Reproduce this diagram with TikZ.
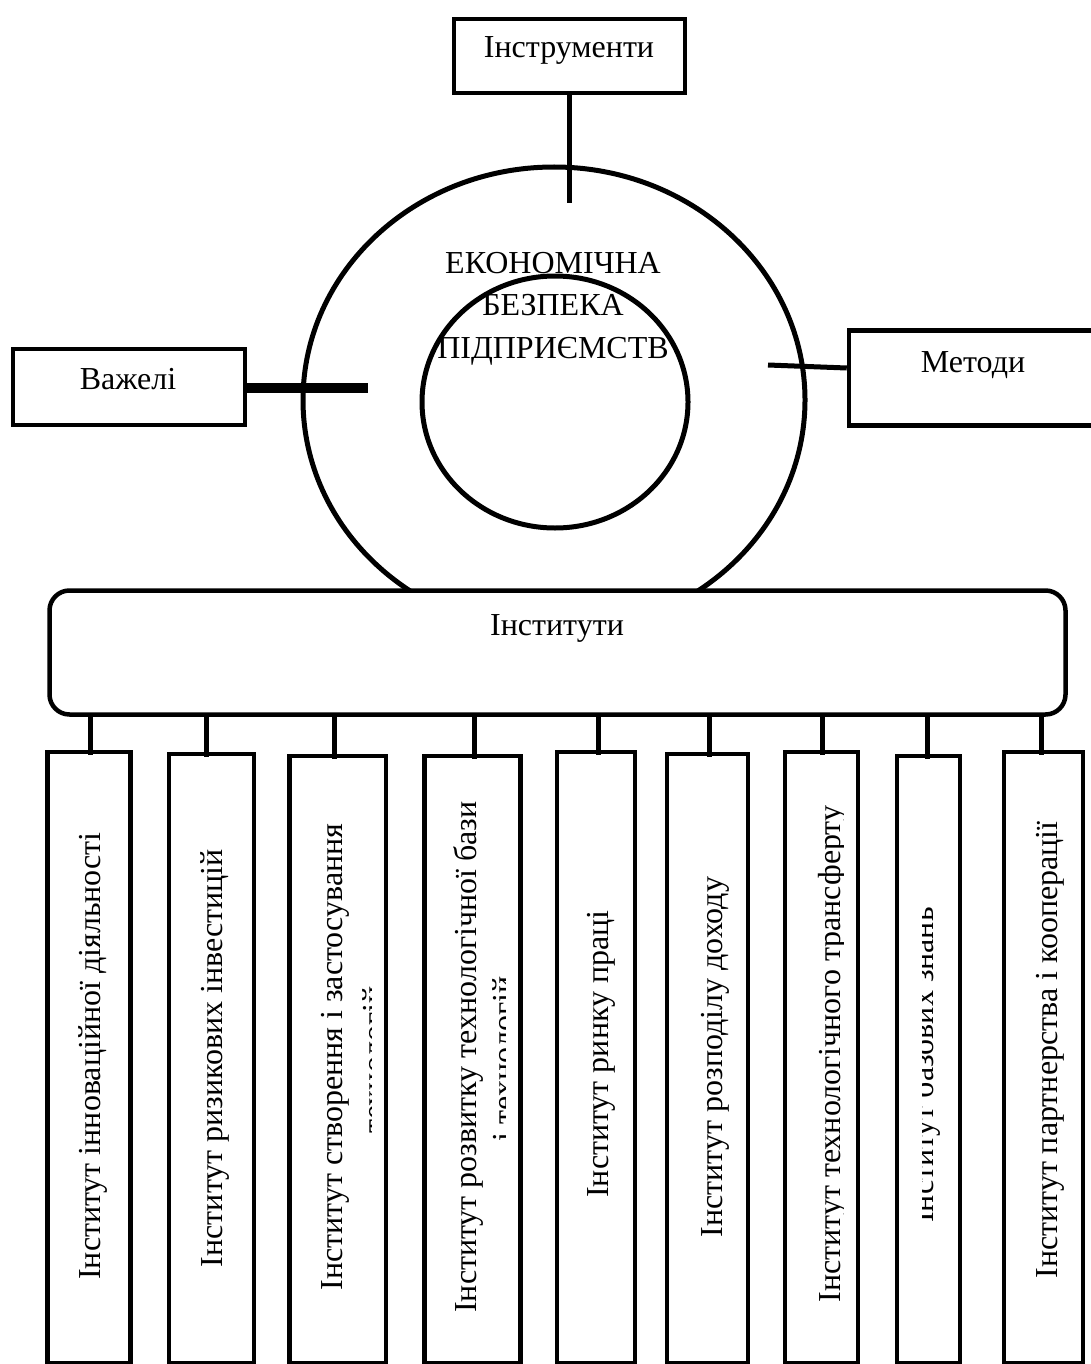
\documentclass[tikz,border=0pt]{standalone}
\usepackage{fontspec}
\setmainfont{Liberation Serif}
\usetikzlibrary{shapes.geometric}
\begin{document}
\begin{tikzpicture}[x=1pt,y=-1pt,
  box/.style={draw,line width=4.5pt,rectangle,inner sep=0pt,fill=white},
  lbl/.style={font=\fontsize{32}{38}\selectfont,inner sep=0pt,anchor=base},
  vlbl/.style={lbl,rotate=90},
  conn/.style={line width=5pt},
  ring/.style={draw,ellipse,line width=5pt,inner sep=0pt}]
\useasboundingbox (0,0) rectangle (1090,1364);
% central rings
\node[ring,minimum width=502pt,minimum height=466pt] (outer) at (554,400) {};
\node[ring,minimum width=266pt,minimum height=252pt] (inner) at (555,402) {};
\node[lbl] (e1) at (553,273) {ЕКОНОМІЧНА};
\node[lbl] (e2) at (553,315) {БЕЗПЕКА};
\node[lbl] (e3) at (553,358) {ПІДПРИЄМСТВ};
% top box
\node[box,minimum width=231pt,minimum height=74pt] (instr) at (569.5,56) {};
\node[lbl] (instrt) at (569,58) {Інструменти};
\coordinate (instrend) at (569.5,203);
\draw[conn] (instr.south) -- (instrend);
% left box
\node[box,minimum width=232pt,minimum height=76pt] (vazh) at (129,387) {};
\node[lbl] (vazht) at (128,389) {Важелі};
\coordinate (vazhend) at (368,388);
\draw[line width=10pt] (vazh.east |- vazhend) -- (vazhend);
% right box
\node[box,minimum width=261pt,minimum height=95pt] (metody) at (979.5,378) {};
\node[lbl] (metodyt) at (973,372) {Методи};
\coordinate (metodyend) at (768,365);
\draw[conn] ([yshift=10pt]metody.west) -- (metodyend);
% institutes bar
\node[box,rounded corners=20pt,minimum width=1016pt,minimum height=124pt] (inst) at (557.5,652.5) {};
\node[lbl] (instt) at (557,635) {Інститути};
% small boxes
\node[box,minimum width=83pt,minimum height=611.5pt,anchor=north] (b1) at (89,749.5) {};
\node[box,minimum width=85pt,minimum height=609.5pt,anchor=north] (b2) at (211.5,751.5) {};
\node[box,minimum width=96.5pt,minimum height=607.5pt,anchor=north] (b3) at (337.75,753.5) {};
\node[box,minimum width=96pt,minimum height=607.5pt,anchor=north] (b4) at (472.5,753.5) {};
\node[box,minimum width=78pt,minimum height=611.5pt,anchor=north] (b5) at (596,749.5) {};
\node[box,minimum width=81pt,minimum height=609.5pt,anchor=north] (b6) at (707.5,751.5) {};
\node[box,minimum width=73pt,minimum height=611.5pt,anchor=north] (b7) at (821.5,749.5) {};
\node[box,minimum width=63pt,minimum height=607.5pt,anchor=north] (b8) at (928.5,753.5) {};
\node[box,minimum width=79pt,minimum height=611.5pt,anchor=north] (b9) at (1043.5,749.5) {};
% connectors
\foreach \i/\dx in {1/1,2/-5.5,3/-3,4/1.5,5/2,6/1.5,7/0.5,8/-1.5,9/-2.5}
  \draw[conn] ([xshift=\dx pt]b\i.north |- inst.south) -- ([xshift=\dx pt,yshift=-5pt]b\i.north);
% vertical texts (clipped to the inner part of each box)
\begin{scope}
\clip ([xshift=2pt,yshift=-2pt]b1.north west) rectangle ([xshift=-17pt]b1.south east);
\node[vlbl] (t1) at (100,1056) {Інститут інноваційної діяльності};
\end{scope}
\begin{scope}
\clip ([xshift=2pt,yshift=-2pt]b2.north west) rectangle ([xshift=-17pt]b2.south east);
\node[vlbl] (t2) at (222,1058) {Інститут ризикових інвестицій};
\end{scope}
\begin{scope}
\clip ([xshift=2pt,yshift=-2pt]b3.north west) rectangle ([xshift=-17pt]b3.south east);
\node[vlbl] (t3a) at (342,1057) {Інститут створення і застосування};
\node[vlbl] (t3b) at (384,1060) {технологій};
\end{scope}
\begin{scope}
\clip ([xshift=2pt,yshift=-2pt]b4.north west) rectangle ([xshift=-17pt]b4.south east);
\node[vlbl] (t4a) at (476,1057) {Інститут розвитку технологічної бази};
\node[vlbl] (t4b) at (514,1059) {і технологій};
\end{scope}
\begin{scope}
\clip ([xshift=2pt,yshift=-2pt]b5.north west) rectangle ([xshift=-17pt]b5.south east);
\node[vlbl] (t5) at (608,1054) {Інститут ринку праці};
\end{scope}
\begin{scope}
\clip ([xshift=2pt,yshift=-2pt]b6.north west) rectangle ([xshift=-17pt]b6.south east);
\node[vlbl] (t6) at (722,1057) {Інститут розподілу доходу};
\end{scope}
\begin{scope}
\clip ([xshift=2pt,yshift=-2pt]b7.north west) rectangle ([xshift=-17pt]b7.south east);
\node[vlbl] (t7) at (840,1054) {Інститут технологічного трансферту};
\end{scope}
\begin{scope}
\clip (922,756) rectangle (943,1361);
\node[vlbl] (t8) at (933,1065) {Інститут базових знань};
\end{scope}
\begin{scope}
\clip ([xshift=2pt,yshift=-2pt]b9.north west) rectangle ([xshift=-17pt]b9.south east);
\node[vlbl] (t9) at (1057,1050) {Інститут партнерства і кооперації};
\end{scope}
\end{tikzpicture}
\end{document}
